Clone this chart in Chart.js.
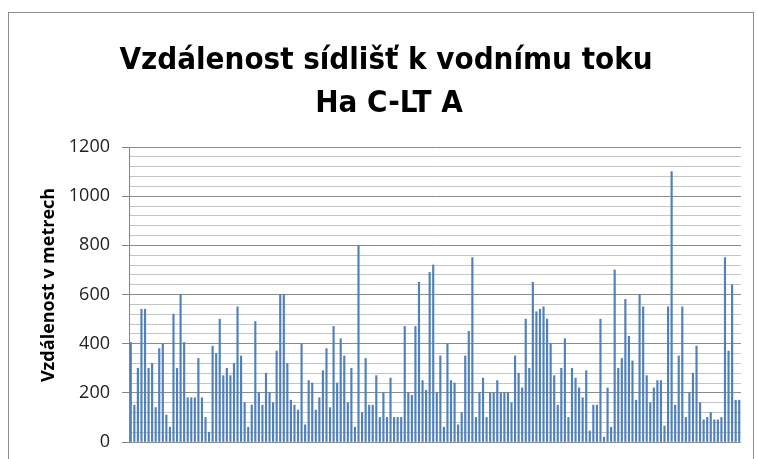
<!DOCTYPE html>
<html>
<head>
<meta charset="utf-8">
<script src="https://cdn.jsdelivr.net/npm/chart.js@4.4.1/dist/chart.umd.min.js"></script>
<style>
  html, body { margin: 0; padding: 0; background: #fff; }
  #wrap { width: 757px; height: 459px; position: relative; }
</style>
</head>
<body>
<div id="wrap"><canvas id="chart" width="757" height="459"></canvas></div>
<script>
const chartTitle = ['Vzdálenost sídlišť k vodnímu toku', 'Ha C-LT A'];
const axisTitle = 'Vzdálenost v metrech';
const yTicks = [0, 200, 400, 600, 800, 1000, 1200];

// vzdálenost jednotlivých sídlišť (m)
const distances = [
  405, 150, 300, 540, 540, 300, 320, 140, 380, 400, 110, 60, 520, 300, 600, 405, 180, 180, 180, 340,
  180, 100, 40, 390, 360, 500, 270, 300, 270,
  320, 550, 350, 160, 60, 150, 490, 200, 150, 280, 200, 160, 370, 600, 600, 320, 170, 150, 130, 400,
  70, 250, 240, 130, 180, 290, 380, 140,
  470, 240, 420, 350, 160, 300, 60, 800, 120, 340, 150, 150, 270, 100, 200, 100, 260, 100, 100, 100,
  470, 200, 190, 470, 650, 250, 210, 690, 720,
  200, 350, 60, 400, 250, 240, 70, 120, 350, 450, 750, 100, 200, 260, 100, 200, 200, 250, 200, 200,
  200, 160, 350, 280, 220, 500, 300, 650, 530,
  540, 550, 500, 400, 270, 150, 300, 420, 100, 300, 260, 220, 180, 290, 45, 150, 150, 500, 20, 220,
  60, 700, 300, 340, 580, 430, 330, 170, 600,
  550, 270, 160, 220, 250, 250, 65, 550, 1100, 150, 350, 550, 100, 200, 280, 390, 160, 90, 100, 120,
  90, 90, 100, 750, 370, 640, 170, 170
];
const categories = distances.map((_, i) => String(i + 1));

(function() {
  const canvas = document.getElementById('chart');
  const titleFont = "bold 31px 'DejaVu Sans Condensed', 'Liberation Sans', sans-serif";
  const labelFamily = "'Open Sans', 'Liberation Sans', sans-serif";

  function isMajor(value) {
    return yTicks.indexOf(value) !== -1;
  }

  const decorations = {
    id: 'decorations',
    beforeDraw(chart) {
      const ctx = chart.ctx;
      ctx.save();
      ctx.fillStyle = '#fff';
      ctx.fillRect(0, 0, chart.width, chart.height);
      ctx.strokeStyle = '#8c8c8c';
      ctx.lineWidth = 1;
      ctx.strokeRect(8.5, 12.5, 745, 500);
      ctx.restore();
    },
    afterDraw(chart) {
      const ctx = chart.ctx;
      ctx.save();
      ctx.fillStyle = '#000';
      ctx.textAlign = 'center';
      ctx.textBaseline = 'alphabetic';
      ctx.font = titleFont;
      ctx.fillText(chartTitle[0], 386, 69);
      ctx.fillText(chartTitle[1], 389, 112);

      ctx.translate(54, 285);
      ctx.rotate(-Math.PI / 2);
      ctx.font = 'bold 18px ' + labelFamily;
      ctx.textBaseline = 'alphabetic';
      ctx.fillText(axisTitle, 0, 0);
      ctx.restore();
    }
  };

  new Chart(canvas, {
    type: 'bar',
    data: {
      labels: categories,
      datasets: [{
        data: distances,
        backgroundColor: '#4f81bd',
        barThickness: 1.5
      }]
    },
    options: {
      responsive: false,
      animation: false,
      layout: { padding: { left: 0, right: 16, top: 147, bottom: 17 } },
      plugins: {
        legend: { display: false },
        title: { display: false },
        tooltip: { enabled: false }
      },
      scales: {
        x: {
          display: false,
          offset: true
        },
        y: {
          min: 0,
          max: 1200,
          afterFit(scale) { scale.width = 129; },
          border: { color: '#868686', width: 1 },
          grid: {
            color: (ctx) => isMajor(ctx.tick && ctx.tick.value) ? '#8c8c8c' : '#c4c4c4',
            tickColor: (ctx) => isMajor(ctx.tick && ctx.tick.value) ? '#868686' : 'rgba(0,0,0,0)',
            tickLength: 7
          },
          ticks: {
            stepSize: 40,
            autoSkip: false,
            padding: 12,
            color: '#222',
            // small lineHeight keeps the label overflow from pushing the plot bottom up
            font: { family: labelFamily, size: 18, lineHeight: 0.3 },
            callback(value) {
              return isMajor(value) ? String(value) : '';
            }
          }
        }
      }
    },
    plugins: [decorations]
  });
})();
</script>
</body>
</html>
